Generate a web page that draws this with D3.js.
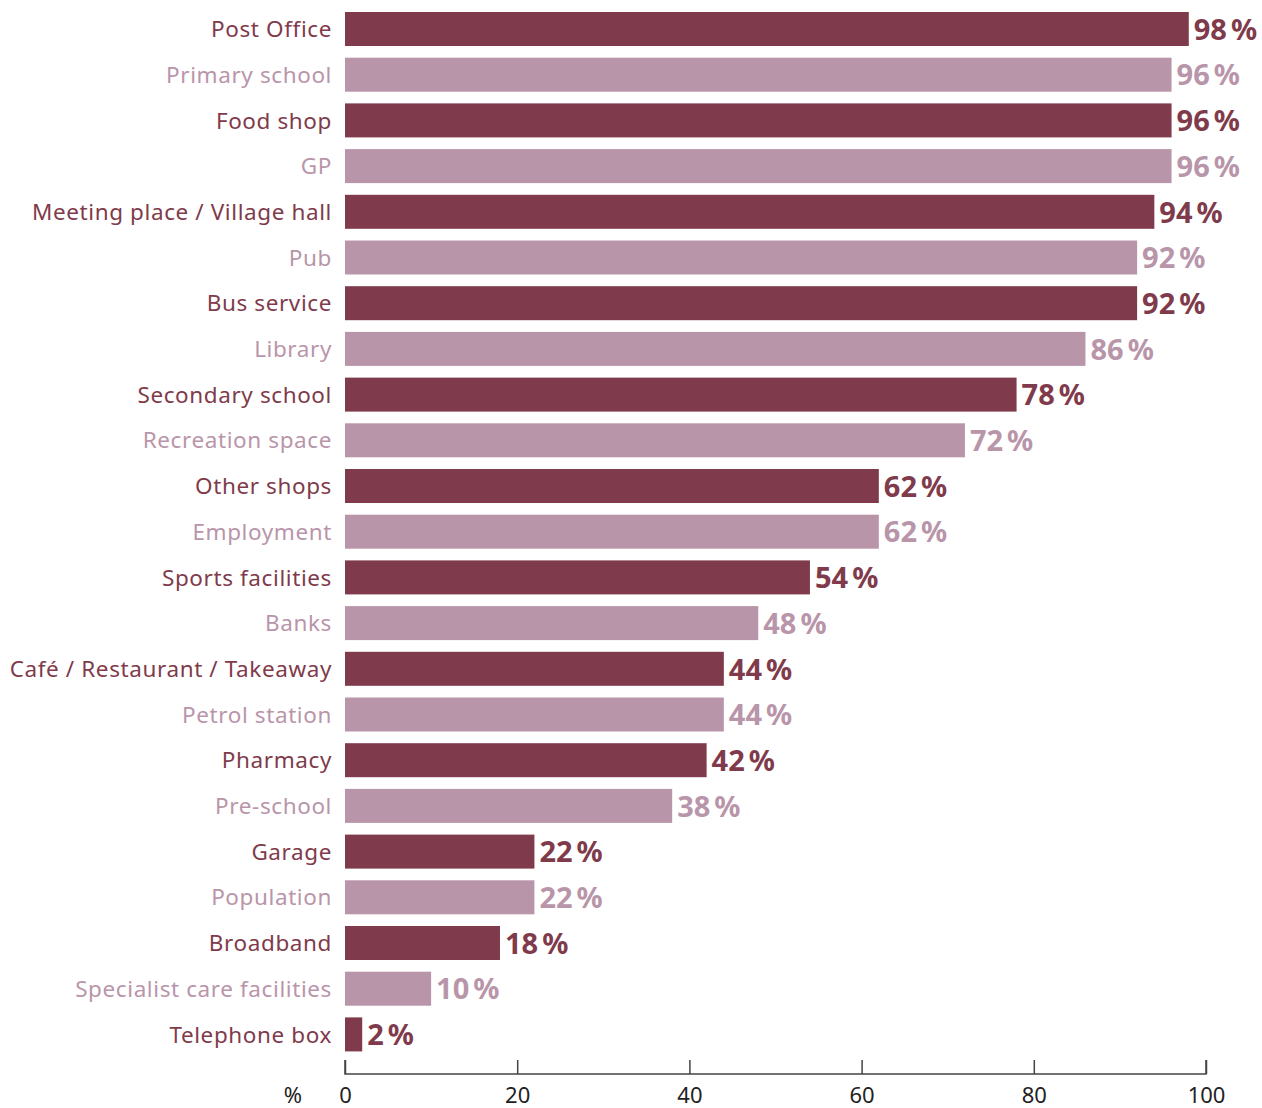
<!DOCTYPE html>
<html><head><meta charset="utf-8">
<script src="https://cdn.jsdelivr.net/npm/d3@7"></script>
<style>body{margin:0;background:#fff;} svg{display:block;}</style>
</head><body>
<svg id="chart" width="1262" height="1108"></svg>
<script>
const categories = ["Post Office","Primary school","Food shop","GP","Meeting place / Village hall","Pub","Bus service","Library","Secondary school","Recreation space","Other shops","Employment","Sports facilities","Banks","Café / Restaurant / Takeaway","Petrol station","Pharmacy","Pre-school","Garage","Population","Broadband","Specialist care facilities","Telephone box"];
const values = [98,96,96,96,94,92,92,86,78,72,62,62,54,48,44,44,42,38,22,22,18,10,2];
const tickValues = [0,20,40,60,80,100];
const colors = ["#7f3b4b","#b995aa"];

const svg = d3.select("#chart");
const x = d3.scaleLinear().domain([0,100]).range([345,1206]);
const step = 45.7;
const y0 = 12 - 0.128*step;
const y = d3.scaleBand().domain(categories).range([y0, y0 + categories.length*step]).paddingInner(0.256).paddingOuter(0.128);
const data = categories.map((c,i)=>({c, v: values[i], col: colors[i%2]}));

svg.selectAll("rect.bar").data(data).join("rect")
  .attr("x", x(0)).attr("y", d=>y(d.c)).attr("width", d=>x(d.v)-x(0)).attr("height", y.bandwidth())
  .attr("fill", d=>d.col);

svg.selectAll("text.lab").data(data).join("text")
  .attr("x", 332).attr("y", d=>y(d.c)+y.bandwidth()/2).attr("dy","0.36em")
  .attr("text-anchor","end").attr("font-family","Noto Sans").attr("font-size",22.5)
  .attr("letter-spacing","0.6px")
  .attr("fill", d=>d.col).text(d=>d.c);

const vals = svg.selectAll("text.val").data(data).join("text")
  .attr("x", d=>x(d.v)+5).attr("y", d=>y(d.c)+y.bandwidth()/2).attr("dy","0.37em")
  .attr("font-family","Noto Sans").attr("font-weight","bold").attr("font-size",29)
  .attr("fill", d=>d.col);
vals.append("tspan").text(d=>d.v);
vals.append("tspan").attr("dx",4).text("%");

const axis = d3.axisTop(x).tickValues(tickValues).tickSize(14).tickFormat(d3.format("d"));
const g = svg.append("g").attr("transform","translate(0,1074)").call(axis);
g.select(".domain").attr("stroke","#444").attr("stroke-width",1.5).attr("d","M345,-14V0H1206V-14");
g.selectAll(".tick line").attr("stroke","#444").attr("stroke-width",1.5);
g.selectAll(".tick text").attr("y",29).attr("dy","0").attr("font-family","Noto Sans").attr("font-size",22).attr("fill","#222");
svg.append("text").attr("x",293).attr("y",1103).attr("text-anchor","middle")
  .attr("font-family","Noto Sans").attr("font-size",22).attr("fill","#222").text("%");
</script>
</body></html>
